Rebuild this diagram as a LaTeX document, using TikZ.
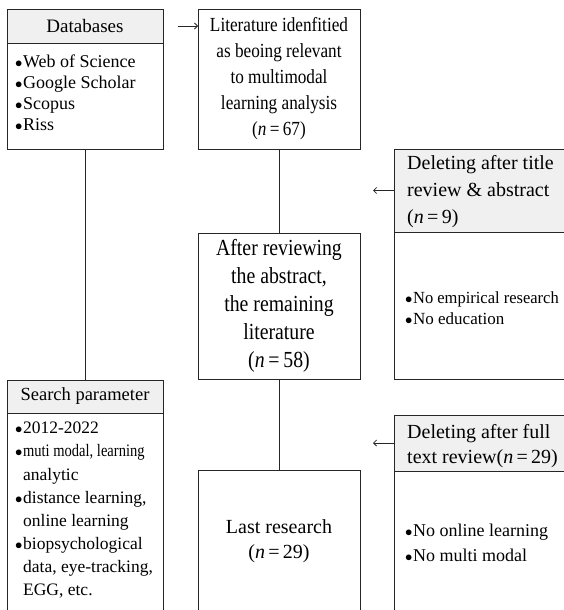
\documentclass[tikz,border=0pt]{standalone}
\usepackage{fontspec}
\setmainfont{Liberation Serif}
\newfontfamily\condensed{Liberation Serif}[FakeStretch=0.86]
\usetikzlibrary{arrows.meta}
\newcommand\bul{\scalebox{0.85}{$\bullet$}\kern0.6pt}
\newcommand\bulsp{\phantom{\scalebox{0.85}{$\bullet$}}\kern0.6pt}
\begin{document}
\begin{tikzpicture}[x=1pt,y=-1pt,
  box/.style={draw=black!85, line width=0.8pt, anchor=north west, inner sep=0pt, outer sep=0pt},
  hdr/.style={box, fill=black!6},
  big/.style={font=\fontsize{19}{26.5}\selectfont, align=center},
  hdrtext/.style={font=\fontsize{20}{27}\selectfont, align=left, anchor=north west, inner sep=0pt},
  lst/.style={font=\fontsize{18}{21}\selectfont, align=left, anchor=north west, inner sep=0pt},
  link/.style={draw=black!85, line width=0.8pt},
  arr/.style={link, -{Straight Barb[length=3pt,width=6pt]}}
]
\useasboundingbox (0,0) rectangle (564,610);
\clip (0,0) rectangle (564,610);

% Databases
\node[hdr, minimum width=156pt, minimum height=34pt, big] (dbh) at (7,9) {Databases};
\node[box, minimum width=156pt, minimum height=106pt] (dbb) at (7,43) {};
\node[lst] (dbt) at (15,55) {\bul Web of Science\\\bul Google Scholar\\\bul Scopus\\\bul Riss};

% Literature
\node[box, minimum width=162pt, minimum height=140pt, big, font=\condensed\fontsize{20}{26}\selectfont] (lit) at (198,9)
  {Literature idenfitied\\as beoing relevant\\to multimodal\\learning analysis\\(\textit{n}\,=\,67)};

% After reviewing
\node[box, minimum width=162pt, minimum height=146pt, big, font=\condensed\fontsize{23}{28}\selectfont] (aft) at (198,233)
  {After reviewing\\the abstract,\\the remaining\\literature\\(\textit{n}\,=\,58)};

% Last research
\node[box, minimum width=162pt, minimum height=180pt] (lastb) at (198,470) {};
\node[big, font=\fontsize{20}{25}\selectfont] (lastt) at (279,541) {Last research\\(\textit{n}\,=\,29)};

% Search parameter
\node[hdr, minimum width=156pt, minimum height=33pt, big, font=\fontsize{18.5}{24}\selectfont] (sph) at (7,380) {Search parameter};
\node[box, minimum width=156pt, minimum height=240pt] (spb) at (7,413) {};
\node[lst, font=\fontsize{17.5}{23.1}\selectfont] (spt) at (15,422)
  {\bul 2012-2022\\\bul \scalebox{0.83}[1]{muti modal, learning}\\\bulsp analytic\\\bul distance learning,\\\bulsp online learning\\\bul biopsychological\\\bulsp data, eye-tracking,\\\bulsp EGG, etc.};

% Deleting 1
\node[hdr, minimum width=220pt, minimum height=83pt] (d1h) at (394,149) {};
\node[hdrtext] (d1t) at (407,155) {Deleting after title\\review \& abstract\\(\textit{n}\,=\,9)};
\node[box, minimum width=220pt, minimum height=147pt] (d1b) at (394,232) {};
\node[lst, font=\fontsize{17}{21}\selectfont] (d1l) at (405,292) {\bul \scalebox{0.97}[1]{No empirical research}\\\bul No education};

% Deleting 2
\node[hdr, minimum width=220pt, minimum height=56pt] (d2h) at (394,415) {};
\node[hdrtext, font=\fontsize{20}{25}\selectfont] (d2t) at (407,424) {Deleting after full\\text review(\textit{n}\,=\,29)};
\node[box, minimum width=220pt, minimum height=180pt] (d2b) at (394,471) {};
\node[lst, font=\fontsize{18}{25}\selectfont] (d2l) at (405,524) {\bul No online learning\\\bul No multi modal};

% connectors
\draw[link] (dbb.south) -- (sph.north);
\draw[link] (lit.south) -- (aft.north);
\draw[link] (aft.south) -- (lastb.north);
\draw[arr, shorten <=15pt] (dbh.east) -- (dbh.east -| lit.west);
\coordinate (a1) at (373,0);
\draw[arr] (d1h.west) -- (d1h.west -| a1);
\draw[arr] (d2h.west) -- (d2h.west -| a1);
\end{tikzpicture}
\end{document}
